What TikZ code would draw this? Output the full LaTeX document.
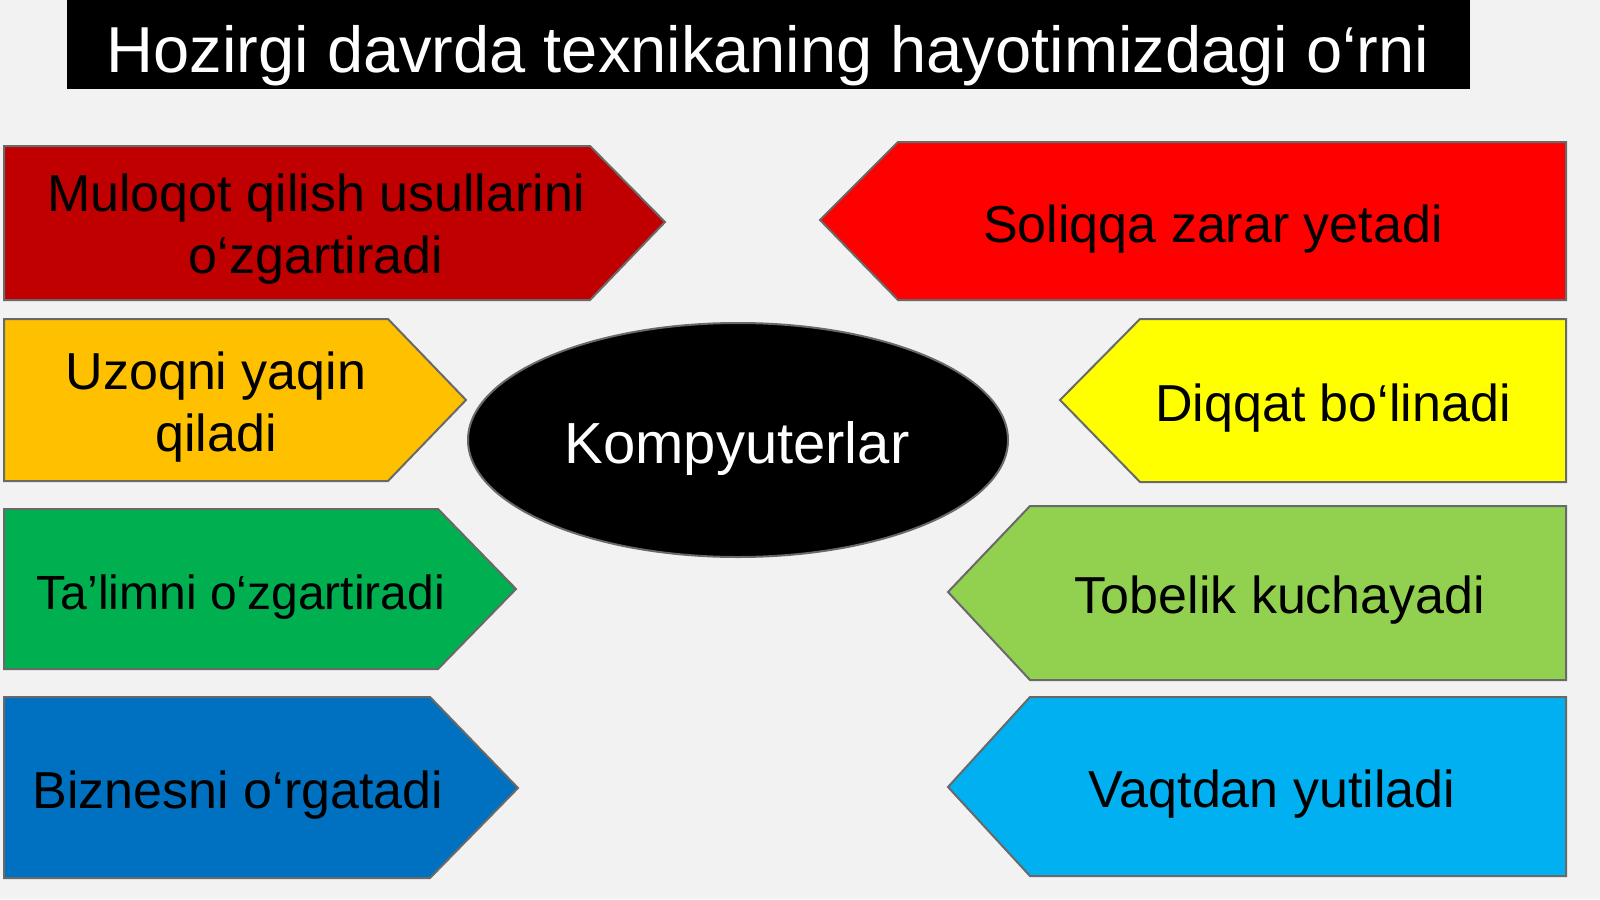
\documentclass[tikz,border=0pt]{standalone}
\usepackage{fontspec}
\setmainfont{Liberation Sans}
\usetikzlibrary{shapes.geometric}
\usepackage{xcolor}
\definecolor{pagebg}{RGB}{242,242,243}
\definecolor{edgegray}{RGB}{105,105,105}
\definecolor{darkred}{RGB}{192,0,0}
\definecolor{amber}{RGB}{255,192,0}
\definecolor{leafgreen}{RGB}{0,176,80}
\definecolor{seablue}{RGB}{0,112,192}
\definecolor{brightred}{RGB}{255,0,0}
\definecolor{lemon}{RGB}{255,255,0}
\definecolor{limegreen}{RGB}{146,208,80}
\definecolor{skyblue}{RGB}{0,176,240}

\begin{document}
\begin{tikzpicture}[
    x=1pt, y=-1pt,
    tag/.style={draw=edgegray, line width=2pt, line join=miter},
    tagtext/.style={font=\fontsize{52}{62}\selectfont, text=black, inner sep=0pt, align=center},
    hub/.style={ellipse, draw=edgegray, line width=2pt, fill=black, text=white, minimum width=540pt, minimum height=234pt, font=\fontsize{58}{70}\selectfont, inner sep=0pt}
]

% Background and title
\useasboundingbox (0,0) rectangle (1600,899);
\fill[pagebg] (0,0) rectangle (1600,899);
\fill[black] (67,0) rectangle (1470,89);
\node (title) [anchor=base, text=white, inner sep=0pt, font=\fontsize{65}{78}\selectfont] at (768,73) {Hozirgi davrda texnikaning hayotimizdagi o‘rni};

% Left tags
\draw[tag, fill=darkred] (4,146) -- (590,146) -- (665,222) -- (590,300) -- (4,300) -- cycle;
\draw[tag, fill=amber] (4,319) -- (388,319) -- (466,400) -- (388,481) -- (4,481) -- cycle;
\draw[tag, fill=leafgreen] (4,509) -- (438,509) -- (516,589) -- (438,669) -- (4,669) -- cycle;
\draw[tag, fill=seablue] (4,697) -- (430,697) -- (518,788) -- (430,878) -- (4,878) -- cycle;

% Right tags
\draw[tag, fill=brightred] (1566,142) -- (898,142) -- (820,220) -- (898,300) -- (1566,300) -- cycle;
\draw[tag, fill=lemon] (1566,319) -- (1140,319) -- (1060,400) -- (1140,482) -- (1566,482) -- cycle;
\draw[tag, fill=limegreen] (1566,506) -- (1030,506) -- (948,592) -- (1030,680) -- (1566,680) -- cycle;
\draw[tag, fill=skyblue] (1566,697) -- (1030,697) -- (948,787) -- (1030,876) -- (1566,876) -- cycle;

% Nodes
\node (comp) [hub] at (738,440) {};
\node (comptext) [anchor=base, text=white, inner sep=0pt, font=\fontsize{58}{70}\selectfont] at (737,463) {Kompyuterlar};

\node (talk) [tagtext] at (316,229) {Muloqot qilish usullarini\\o‘zgartiradi};
\node (near) [tagtext] at (216,407) {Uzoqni yaqin\\qiladi};
\node (edu) [tagtext, anchor=base, font=\fontsize{48}{58}\selectfont] at (241,609) {Ta’limni o‘zgartiradi};
\node (biz) [tagtext, anchor=base] at (238,808) {Biznesni o‘rgatadi};

\node (health) [tagtext, anchor=base] at (1213,242) {Soliqqa zarar yetadi};
\node (focus) [tagtext, anchor=base] at (1333,421) {Diqqat bo‘linadi};
\node (addict) [tagtext, anchor=base] at (1280,613) {Tobelik kuchayadi};
\node (time) [tagtext, anchor=base] at (1272,807) {Vaqtdan yutiladi};

\end{tikzpicture}
\end{document}
